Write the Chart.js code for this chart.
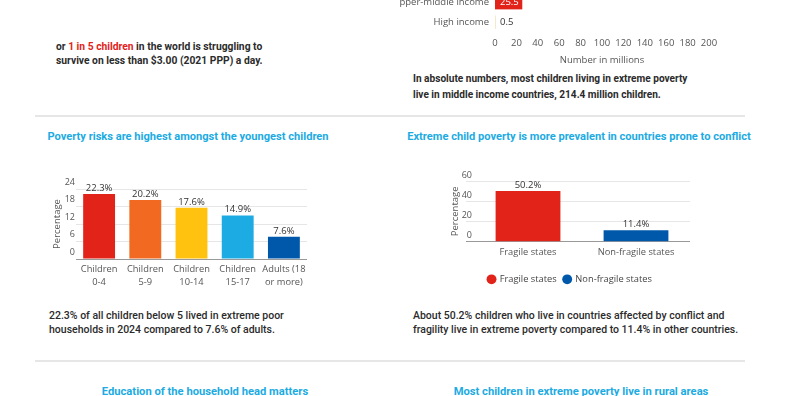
<!DOCTYPE html>
<html>
<head>
<meta charset="utf-8">
<script src="https://cdn.jsdelivr.net/npm/chart.js@4.4.0/dist/chart.umd.min.js"></script>
<style>
body { margin: 0; width: 792px; height: 396px; overflow: hidden; background: #fff; position: relative; font-family: Roboto, sans-serif; }
.txt { position: absolute; color: #2b2b2b; font-weight: 700; font-size: 10.3px; line-height: 14px; white-space: nowrap; }
.note { position: absolute; color: #2b2b2b; font-weight: 500; font-size: 10.5px; line-height: 14px; white-space: nowrap; }
.head { position: absolute; color: #1cabe2; font-weight: 700; font-size: 11.1px; line-height: 14px; white-space: nowrap; text-align: center; }
.rule { position: absolute; left: 35px; width: 710px; height: 1.5px; background: #e6e6e6; }
.red { color: #e2231a; }
.box { position: absolute; }
</style>
</head>
<body>

<div class="txt" style="left:56px; top:40px;">or <span class="red">1 in 5 children</span> in the world is struggling to<br>survive on less than $3.00 (2021 PPP) a day.</div>

<div class="box" style="left:400px; top:-19px; width:330px; height:85px;"><canvas id="incomeChart" width="330" height="85"></canvas></div>
<div class="txt" style="left:413px; top:71px; line-height:16px; font-size:10.1px;">In absolute numbers, most children living in extreme poverty<br>live in middle income countries, 214.4 million children.</div>

<div class="rule" style="top:115px;"></div>

<div class="head" style="left:0; width:376px; top:130px;">Poverty risks are highest amongst the youngest children</div>
<div class="head" style="left:380px; width:398px; top:130px;">Extreme child poverty is more prevalent in countries prone to conflict</div>

<div class="box" style="left:30px; top:170px; width:290px; height:125px;"><canvas id="ageChart" width="290" height="125"></canvas></div>
<div class="box" style="left:420px; top:160px; width:280px; height:134px;"><canvas id="fragileChart" width="280" height="134"></canvas></div>

<div class="note" style="left:49px; top:309px;">22.3% of all children below 5 lived in extreme poor<br>households in 2024 compared to 7.6% of adults.</div>
<div class="note" style="left:413px; top:309px;">About 50.2% children who live in countries affected by conflict and<br>fragility live in extreme poverty compared to 11.4% in other countries.</div>

<div class="rule" style="top:360px;"></div>

<div class="head" style="left:0; width:410px; top:385px; font-size:11.2px;">Education of the household head matters</div>
<div class="head" style="left:385px; width:392px; top:385px; font-size:11.2px;">Most children in extreme poverty live in rural areas</div>

<script>
// --- data ---
const incomeGroups = ['Upper-middle income', 'High income'];
const incomeMillions = [25.5, 0.5];
const incomeColors = ['#e2231a', '#f2d49b'];

const ageGroups = [['Children', '0-4'], ['Children', '5-9'], ['Children', '10-14'], ['Children', '15-17'], ['Adults (18', 'or more)']];
const agePercent = [22.3, 20.2, 17.6, 14.9, 7.6];
const ageColors = ['#e2231a', '#f26a21', '#ffc20e', '#1cabe2', '#0058ab'];
const ageTicks = [0, 6, 12, 18, 24];

const fragileGroups = ['Fragile states', 'Non-fragile states'];
const fragilePercent = [50.2, 11.4];
const fragileColors = ['#e2231a', '#0058ab'];
const fragileTicks = [0, 20, 40, 60];

Chart.defaults.font.family = "'Open Sans', sans-serif";
Chart.defaults.font.size = 9;
Chart.defaults.color = '#555';
Chart.defaults.animation = false;

// small value-label plugin, draws text from the bar elements
const valueLabels = {
    id: 'valueLabels',
    afterDatasetsDraw(chart, args, opts) {
        const ctx = chart.ctx;
        ctx.save();
        ctx.font = (opts.size || 9) + "px 'Open Sans', sans-serif";
        chart.data.datasets.forEach((ds, di) => {
            const meta = chart.getDatasetMeta(di);
            meta.data.forEach((bar, i) => {
                const v = ds.data[i];
                if (v === null || v === undefined) return;
                const txt = v + (opts.suffix || '');
                if (chart.options.indexAxis === 'y') {
                    ctx.textAlign = 'left';
                    ctx.textBaseline = 'middle';
                    ctx.fillStyle = (bar.x - bar.base) > 25 ? '#fff' : '#333';
                    ctx.fillText(txt, bar.base + 5, bar.y);
                } else {
                    ctx.textAlign = 'center';
                    ctx.textBaseline = 'bottom';
                    ctx.fillStyle = '#333';
                    ctx.fillText(txt, bar.x, bar.y - 1);
                }
            });
        });
        ctx.restore();
    }
};

// top chart: children in extreme poverty by income group (cut off at top)
new Chart(document.getElementById('incomeChart'), {
    type: 'bar',
    data: {
        labels: incomeGroups,
        datasets: [{ data: incomeMillions, backgroundColor: incomeColors, categoryPercentage: 1, barPercentage: 0.68 }]
    },
    options: {
        indexAxis: 'y',
        responsive: false,
        layout: { padding: { top: 12, right: 21, left: 0, bottom: 0 } },
        plugins: { legend: { display: false }, tooltip: { enabled: false }, valueLabels: { size: 9.5 } },
        scales: {
            x: {
                min: 0, max: 200,
                ticks: { stepSize: 20, padding: 6, color: '#555', maxRotation: 0, font: { size: 9.5 } },
                grid: { display: false, drawTicks: false },
                border: { display: false },
                title: { display: true, text: 'Number in millions', color: '#555', font: { size: 9.5 }, padding: 0 },
                afterFit: s => { s.height = 34; }
            },
            y: {
                ticks: { padding: 6, color: '#555', font: { size: 9.5 } },
                grid: { display: false, drawTicks: false },
                border: { display: false },
                afterFit: s => { s.width = 95; }
            }
        }
    },
    plugins: [valueLabels]
});

// bottom-left: poverty rate by age group
new Chart(document.getElementById('ageChart'), {
    type: 'bar',
    data: {
        labels: ageGroups,
        datasets: [{ data: agePercent, backgroundColor: ageColors, categoryPercentage: 1, barPercentage: 0.69 }]
    },
    options: {
        responsive: false,
        layout: { padding: { top: 19, right: 13, left: 22, bottom: 0 } },
        plugins: { legend: { display: false }, tooltip: { enabled: false }, valueLabels: { size: 9.5, suffix: '%' } },
        scales: {
            x: {
                ticks: { padding: 4, color: '#555', maxRotation: 0, font: { size: 9.3, lineHeight: 1.4 } },
                grid: { display: false, drawTicks: false },
                border: { display: false },
                afterFit: s => { s.height = 36; }
            },
            y: {
                min: 0, max: 24,
                afterBuildTicks: s => { s.ticks = ageTicks.map(v => ({ value: v })); },
                ticks: { padding: 1, labelOffset: -7, color: '#555' },
                grid: { color: c => c.tick && c.tick.value === 0 ? '#999' : '#e6e6e6', drawTicks: false },
                border: { display: false },
                title: { display: true, text: 'Percentage', color: '#555', font: { size: 9.5 }, padding: 0 },
                afterFit: s => { s.width = 24; }
            }
        }
    },
    plugins: [valueLabels]
});

// bottom-right: fragile vs non-fragile states
new Chart(document.getElementById('fragileChart'), {
    type: 'bar',
    data: {
        labels: fragileGroups,
        datasets: fragileGroups.map((g, i) => ({
            label: g,
            data: fragilePercent.map((v, j) => j === i ? v : null),
            backgroundColor: fragileColors[i],
            categoryPercentage: 1,
            barPercentage: 0.6,
            grouped: false
        }))
    },
    options: {
        responsive: false,
        layout: { padding: { top: 21, right: 10, left: 30, bottom: 0 } },
        plugins: {
            legend: {
                position: 'bottom',
                labels: { usePointStyle: true, pointStyle: 'circle', boxWidth: 7, boxHeight: 7, padding: 7, color: '#444', font: { size: 9.3 } }
            },
            tooltip: { enabled: false },
            valueLabels: { size: 9.5, suffix: '%' }
        },
        scales: {
            x: {
                ticks: { padding: 5, color: '#555', maxRotation: 0, font: { size: 9.3 } },
                grid: { display: false, drawTicks: false },
                border: { display: false },
                afterFit: s => { s.height = 26; }
            },
            y: {
                min: 0, max: 60,
                afterBuildTicks: s => { s.ticks = fragileTicks.map(v => ({ value: v })); },
                ticks: { padding: -6, labelOffset: -6, color: '#555' },
                grid: { color: c => c.tick && c.tick.value === 0 ? '#999' : '#e6e6e6', tickLength: 8, drawTicks: true },
                border: { display: false },
                title: { display: true, text: 'Percentage', color: '#555', font: { size: 9.5 }, padding: 0 },
                afterFit: s => { s.width = 24; }
            }
        }
    },
    plugins: [valueLabels]
});
</script>
</body>
</html>
